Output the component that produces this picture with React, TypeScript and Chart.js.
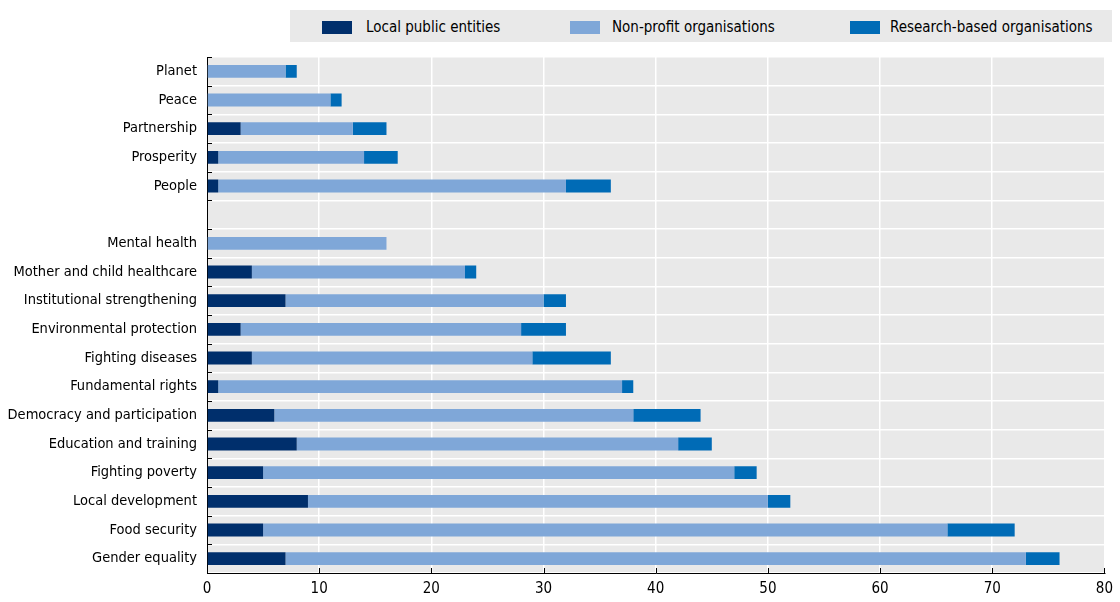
import React, { useEffect, useRef } from "react";
import { Chart, registerables } from "chart.js";

Chart.register(...registerables);

const categories = [
  "Planet",
  "Peace",
  "Partnership",
  "Prosperity",
  "People",
  "",
  "Mental health",
  "Mother and child healthcare",
  "Institutional strengthening",
  "Environmental protection",
  "Fighting diseases",
  "Fundamental rights",
  "Democracy and participation",
  "Education and training",
  "Fighting poverty",
  "Local development",
  "Food security",
  "Gender equality",
];

const localPublic = [0, 0, 3, 1, 1, null, 0, 4, 7, 3, 4, 1, 6, 8, 5, 9, 5, 7];
const nonProfit = [7, 11, 10, 13, 31, null, 16, 19, 23, 25, 25, 36, 32, 34, 42, 41, 61, 66];
const research = [1, 1, 3, 3, 4, null, 0, 1, 2, 4, 7, 1, 6, 3, 2, 2, 6, 3];

const seriesNames = ["Local public entities", "Non-profit organisations", "Research-based organisations"];
const seriesColors = ["#002f6c", "#7fa7d8", "#006bb6"];

const FONT = "'Liberation Sans Narrow', 'Arial Narrow', 'DejaVu Sans Condensed', sans-serif";

const bgPlugin = {
  id: "plotBg",
  beforeDraw(chart: any) {
    const { ctx, chartArea } = chart;
    ctx.save();
    ctx.fillStyle = "#e9e9e9";
    ctx.fillRect(chartArea.left, chartArea.top, chartArea.right - chartArea.left, chartArea.bottom - chartArea.top);
    ctx.restore();
  },
  afterDraw(chart: any) {
    const { ctx, chartArea, scales } = chart;
    ctx.save();
    ctx.strokeStyle = "#000";
    ctx.lineWidth = 1;
    scales.x.ticks.forEach((t: any) => {
      const px = Math.round(scales.x.getPixelForValue(t.value)) + 0.5;
      ctx.beginPath();
      ctx.moveTo(px, chartArea.bottom);
      ctx.lineTo(px, chartArea.bottom - 5);
      ctx.stroke();
    });
    const n = categories.length;
    for (let i = 0; i <= n; i++) {
      const py = Math.round(chartArea.top + ((chartArea.bottom - chartArea.top) * i) / n) + 0.5;
      ctx.beginPath();
      ctx.moveTo(chartArea.left, py);
      ctx.lineTo(chartArea.left + 5, py);
      ctx.stroke();
    }
    ctx.restore();
  },
};

export default function App() {
  const ref = useRef<HTMLCanvasElement>(null);

  useEffect(() => {
    if (!ref.current) return;
    const chart = new Chart(ref.current, {
      type: "bar",
      data: {
        labels: categories,
        datasets: [localPublic, nonProfit, research].map((d, i) => ({
          label: seriesNames[i],
          data: d,
          backgroundColor: seriesColors[i],
          borderWidth: 0,
          categoryPercentage: 1,
          barPercentage: 0.45,
        })),
      },
      options: {
        indexAxis: "y",
        animation: false,
        responsive: false,
        maintainAspectRatio: false,
        layout: { padding: { top: 57, right: 11, left: 0, bottom: 0 } },
        plugins: {
          legend: { display: false },
          tooltip: { enabled: false },
        },
        scales: {
          x: {
            stacked: true,
            min: 0,
            max: 80,
            ticks: { stepSize: 10, color: "#000", font: { family: FONT, size: 15 }, padding: 7 },
            grid: { color: "#ffffff", lineWidth: 1.5, drawTicks: false },
            border: { display: true, color: "#000", width: 1 },
            afterFit(scale: any) {
              scale.height = 29;
            },
          },
          y: {
            stacked: true,
            ticks: { color: "#000", font: { family: FONT, size: 14.5 }, padding: 10, autoSkip: false },
            grid: { color: "#ffffff", lineWidth: 1.5, drawTicks: false, offset: true },
            border: { display: true, color: "#000", width: 1 },
            afterFit(scale: any) {
              scale.width = 207;
            },
          },
        },
      },
      plugins: [bgPlugin],
    } as any);
    return () => chart.destroy();
  }, []);

  const legendItems = [
    { box: 322, text: 366 },
    { box: 570, text: 612 },
    { box: 850, text: 890 },
  ];

  return (
    <div style={{ position: "fixed", left: 0, top: 0, width: 1120, height: 602, background: "#fff", fontFamily: FONT }}>
      <div style={{ position: "absolute", left: 290, top: 10, width: 822, height: 32, background: "#e9e9e9" }} />
      {legendItems.map((it, i) => (
        <React.Fragment key={i}>
          <div
            style={{
              position: "absolute",
              left: it.box,
              top: 21,
              width: 30,
              height: 13,
              background: seriesColors[i],
            }}
          />
          <div
            style={{
              position: "absolute",
              left: it.text,
              top: 18,
              fontSize: 15,
              lineHeight: "18px",
              color: "#000",
              whiteSpace: "nowrap",
            }}
          >
            {seriesNames[i]}
          </div>
        </React.Fragment>
      ))}
      <canvas ref={ref} width={1120} height={602} style={{ position: "absolute", left: 0, top: 0 }} />
    </div>
  );
}
